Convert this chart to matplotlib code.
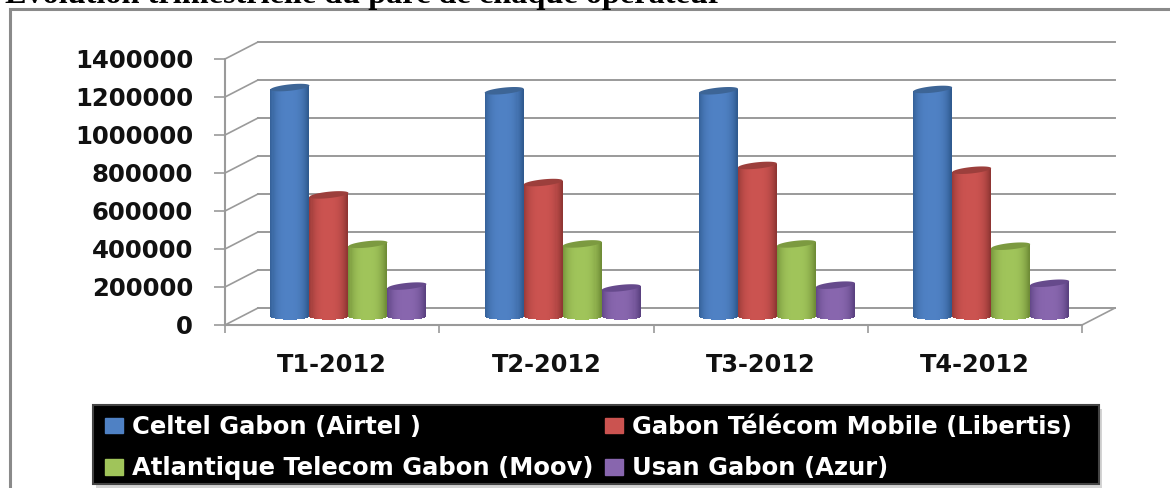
import numpy as np
import matplotlib
matplotlib.use('Agg')
import matplotlib.pyplot as plt
from matplotlib.patches import Rectangle, Patch

quarters = ['T1-2012', 'T2-2012', 'T3-2012', 'T4-2012']
airtel = [1205000, 1188000, 1188000, 1195000]
libertis = [640000, 705000, 795000, 770000]
moov = [380000, 382000, 382000, 370000]
azur = [160000, 150000, 165000, 175000]
series_names = ['Celtel Gabon (Airtel )', 'Gabon Télécom Mobile (Libertis)',
                'Atlantique Telecom Gabon (Moov)', 'Usan Gabon (Azur)']
yticks = [0, 200000, 400000, 600000, 800000, 1000000, 1200000, 1400000]

colors = ['#4f81c4', '#cb5350', '#a0c45a', '#8866ae']
dark = ['#2f5a8f', '#8f3533', '#6f8c36', '#5a4180']
tops = ['#3d6596', '#9c3f3c', '#7c9a40', '#664a8c']
grid_col = '#9a9a9a'
W, H = 1170, 488


def px(x, y, w, h):
    return [x / W, 1 - (y + h) / H, w / W, h / H]


fig = plt.figure(figsize=(W / 100, H / 100), dpi=100)
fig.add_artist(Rectangle((10 / W, -0.05), 1.1, 1.05 - 9 / H, transform=fig.transFigure,
                         fill=False, ec='#8a8a8a', lw=2.2))
fig.text(5 / W, 1 - 3.5 / H, 'Evolution trimestrielle du parc de chaque opérateur',
         family='Liberation Serif', weight='bold', fontsize=23.2, color='black', va='baseline')

# legend box and its shadow
fig.add_artist(Rectangle(px(96, 409, 1006, 79)[:2], 1006 / W, 79 / H, transform=fig.transFigure,
                         fc='#d4d4d4', lw=0, zorder=-2))
fig.add_artist(Rectangle(px(93, 405, 1006, 79)[:2], 1006 / W, 79 / H, transform=fig.transFigure,
                         fc='black', ec='#444444', lw=1.5, zorder=-1))

ax = fig.add_axes(px(225, 59, 857, 266))
ax.set_xlim(0, 4)
ax.set_ylim(0, 1400000)
ax.patch.set_visible(False)

# depth of the fake 3d box, in data units
dx = 33 / (857 / 4)
dy = 17 / (266 / 1400000)

for v in yticks:
    ax.plot([0, dx], [v, v + dy], color=grid_col, lw=1.2, clip_on=False, zorder=1)
    ax.plot([dx, 4 + dx], [v + dy, v + dy], color=grid_col, lw=1.4, clip_on=False, zorder=1)
ax.plot([4, 4 + dx], [0, dy], color=grid_col, lw=1.2, clip_on=False, zorder=1)

bar_w = 39 / (857 / 4)
start = 0.135 + dx / 2
e_h = 3.2 / (266 / 1400000)
tilt = 2 / (266 / 1400000)
n = 39
t = np.linspace(-1, 1, n)
t_mid = (t[:-1] + t[1:]) / 2

for s, vals in enumerate([airtel, libertis, moov, azur]):
    base = matplotlib.colors.to_rgb(colors[s])
    edge = matplotlib.colors.to_rgb(dark[s])
    for i, v in enumerate(vals):
        cx = i + start + (s + 0.5) * bar_w
        cy = v + dy / 2
        xs = cx + t_mid * bar_w / 2
        # shading across the cylinder
        k = np.clip(np.abs(t_mid + 0.05) ** 3, 0, 1)
        cols = [tuple(np.array(base) * (1 - a) + np.array(edge) * a) for a in k]
        bottoms = dy / 2 - e_h * np.sqrt(1 - t_mid ** 2)
        heights = cy + tilt * t_mid - bottoms
        ax.bar(xs, heights, width=bar_w / (n - 1), bottom=bottoms, color=cols, lw=0,
               antialiased=False, clip_on=False, zorder=3 + s)
        a = np.linspace(0, 2 * np.pi, 60)
        ax.fill(cx + np.cos(a) * bar_w / 2, cy + e_h * np.sin(a) + tilt * np.cos(a),
                color=tops[s], lw=0, clip_on=False, zorder=3 + s)

for sp in ['top', 'right']:
    ax.spines[sp].set_visible(False)
for sp in ['left', 'bottom']:
    ax.spines[sp].set_color(grid_col)
    ax.spines[sp].set_linewidth(1.5)
    ax.spines[sp].set_zorder(2)

ax.set_yticks(yticks)
ax.set_yticklabels([str(v) for v in yticks])
ax.set_xticks(range(5))
ax.set_xticklabels([])
ax.set_xticks([i + 0.5 for i in range(4)], quarters, minor=True)
ax.tick_params(axis='y', length=8, width=1.2, color=grid_col, pad=15)
ax.tick_params(axis='x', which='major', length=6, width=1.2, color=grid_col)
ax.tick_params(axis='x', which='minor', length=0, pad=20)
for lab in ax.get_yticklabels():
    lab.set(family='DejaVu Sans', weight='bold', fontsize=17.6, color='#111111')
for lab in ax.get_xticklabels(minor=True):
    lab.set(family='DejaVu Sans', weight='bold', fontsize=17.3, color='#111111')

handles = [Patch(color=c) for c in colors]
# matplotlib fills legend columns first, so order to keep the rows as in the picture
order = [0, 2, 1, 3]
leg = ax.legend([handles[j] for j in order], [series_names[j] for j in order], ncol=2,
                loc='upper left', bbox_to_anchor=(105 / W, 1 - 415 / H),
                bbox_transform=fig.transFigure, frameon=False,
                borderaxespad=0, borderpad=0, labelspacing=0.72, handlelength=0.76,
                handleheight=0.6, handletextpad=0.36, columnspacing=0.45,
                prop={'family': 'DejaVu Sans', 'weight': 'bold', 'size': 17.5},
                labelcolor='white')
leg.set_zorder(10)

fig.savefig('out.png', dpi=100)
